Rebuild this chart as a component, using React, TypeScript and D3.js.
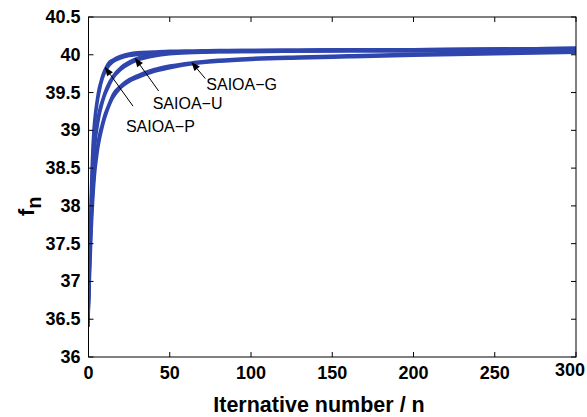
import React from "react";
import * as d3 from "d3";

const W = 587;
const H = 417;
const M = { left: 88.5, right: 11, top: 17, bottom: 60 };

const xTicks = [0, 50, 100, 150, 200, 250, 300];
const yTicks = [36, 36.5, 37, 37.5, 38, 38.5, 39, 39.5, 40, 40.5];

const steps = [0, 1, 2, 3, 4, 5, 6, 7, 8, 10, 12, 15, 20, 25, 30, 40, 50, 65, 80, 100, 130, 160, 200, 250, 300];

const runsP = [
  [36.5, 37.85, 38.6, 39.02, 39.24, 39.4, 39.53, 39.62, 39.7, 39.81, 39.89, 39.94, 39.99, 40.02, 40.035, 40.045, 40.055, 40.06, 40.065, 40.065, 40.07, 40.075, 40.075, 40.085, 40.095],
  [36.45, 37.7, 38.45, 38.9, 39.15, 39.33, 39.47, 39.57, 39.66, 39.78, 39.86, 39.92, 39.97, 40.0, 40.015, 40.03, 40.04, 40.045, 40.05, 40.05, 40.055, 40.06, 40.06, 40.07, 40.08],
  [36.4, 37.55, 38.3, 38.78, 39.06, 39.26, 39.41, 39.52, 39.62, 39.75, 39.83, 39.9, 39.95, 39.98, 39.995, 40.015, 40.025, 40.03, 40.035, 40.035, 40.04, 40.045, 40.045, 40.055, 40.065],
];
const runsU = [
  [36.5, 37.55, 38.25, 38.67, 38.92, 39.09, 39.21, 39.31, 39.38, 39.51, 39.61, 39.72, 39.84, 39.91, 39.96, 40.005, 40.035, 40.05, 40.06, 40.065, 40.07, 40.075, 40.075, 40.085, 40.095],
  [36.45, 37.4, 38.1, 38.55, 38.83, 39.02, 39.15, 39.26, 39.34, 39.48, 39.58, 39.7, 39.82, 39.89, 39.94, 39.99, 40.02, 40.035, 40.045, 40.05, 40.055, 40.06, 40.06, 40.07, 40.08],
  [36.4, 37.25, 37.95, 38.43, 38.74, 38.95, 39.09, 39.21, 39.3, 39.45, 39.55, 39.68, 39.8, 39.87, 39.92, 39.975, 40.005, 40.02, 40.03, 40.035, 40.04, 40.045, 40.045, 40.055, 40.065],
];
const runsG = [
  [36.5, 37.35, 37.95, 38.32, 38.57, 38.75, 38.89, 38.99, 39.07, 39.22, 39.33, 39.48, 39.6, 39.68, 39.73, 39.81, 39.86, 39.905, 39.935, 39.96, 39.98, 39.995, 40.015, 40.035, 40.055],
  [36.45, 37.2, 37.8, 38.2, 38.48, 38.67, 38.82, 38.93, 39.02, 39.18, 39.3, 39.45, 39.58, 39.66, 39.71, 39.79, 39.84, 39.89, 39.92, 39.945, 39.965, 39.98, 40.0, 40.02, 40.04],
  [36.4, 37.05, 37.65, 38.08, 38.39, 38.59, 38.75, 38.87, 38.97, 39.14, 39.27, 39.42, 39.56, 39.64, 39.69, 39.77, 39.82, 39.875, 39.905, 39.93, 39.95, 39.965, 39.985, 40.005, 40.025],
];

// annotations: label, arrow tip (n, f), arrow tail (n, f), text anchor (n, f)
const annLabels = ["SAIOA\u2212P", "SAIOA\u2212U", "SAIOA\u2212G"];
const annTip = [[10, 39.84], [28.5, 39.96], [63.3, 39.905]];
const annTail = [[27.4, 39.32], [43.2, 39.52], [71.9, 39.685]];
const annText = [[23, 38.98], [39.5, 39.28], [72.5, 39.53]];

const BLUE = "#2f46ad";
const FONT = "'Liberation Sans', Arial, Helvetica, sans-serif";

export default function App() {
  const x = d3.scaleLinear().domain([0, 300]).range([M.left, W - M.right]);
  const y = d3.scaleLinear().domain([36, 40.5]).range([H - M.bottom, M.top]);
  const line = d3
    .line<number>()
    .x((_, i) => x(steps[i]))
    .y((d) => y(d))
    .curve(d3.curveMonotoneX);

  const allRuns = [...runsG, ...runsU, ...runsP];
  const x0 = x.range()[0], x1 = x.range()[1];
  const y0 = y.range()[0], y1 = y.range()[1];
  const tl = 5;

  return (
    <svg width={W} height={H} style={{ position: "absolute", left: 0, top: 0, background: "#fff" }}>
      <defs>
        <clipPath id="plot">
          <rect x={x0} y={y1} width={x1 - x0} height={y0 - y1} />
        </clipPath>
      </defs>
      <g clipPath="url(#plot)">
        {allRuns.map((r, i) => (
          <path key={i} d={line(r) || ""} fill="none" stroke={BLUE} strokeWidth={2.2} strokeLinejoin="round" />
        ))}
      </g>
      <rect x={x0} y={y1} width={x1 - x0} height={y0 - y1} fill="none" stroke="#000" strokeWidth={1} />
      {xTicks.map((t, i) => {
        const last = i === xTicks.length - 1;
        return (
          <g key={"x" + t}>
            <line x1={x(t)} x2={x(t)} y1={y0} y2={y0 - tl} stroke="#000" />
            <line x1={x(t)} x2={x(t)} y1={y1} y2={y1 + tl} stroke="#000" />
            <text
              x={x(t) + (last ? -6 : 0)}
              y={y0 + (last ? 19 : 22)}
              textAnchor="middle"
              fontFamily={FONT}
              fontWeight="bold"
              fontSize={18}
            >
              {t}
            </text>
          </g>
        );
      })}
      {yTicks.map((t) => (
        <g key={"y" + t}>
          <line x1={x0} x2={x0 + tl} y1={y(t)} y2={y(t)} stroke="#000" />
          <line x1={x1} x2={x1 - tl} y1={y(t)} y2={y(t)} stroke="#000" />
          <text x={x0 - 8} y={y(t) + 6} textAnchor="end" fontFamily={FONT} fontWeight="bold" fontSize={18}>
            {t}
          </text>
        </g>
      ))}
      {annLabels.map((lab, i) => {
        const tx = x(annTip[i][0]), ty = y(annTip[i][1]);
        const sx = x(annTail[i][0]), sy = y(annTail[i][1]);
        const ang = Math.atan2(ty - sy, tx - sx);
        const hl = 9, hw = 3.5;
        const bx = tx - hl * Math.cos(ang), by = ty - hl * Math.sin(ang);
        const px = -Math.sin(ang) * hw, py = Math.cos(ang) * hw;
        return (
          <g key={lab}>
            <line x1={sx} y1={sy} x2={bx} y2={by} stroke="#000" strokeWidth={1} />
            <path d={`M${tx},${ty}L${bx + px},${by + py}L${bx - px},${by - py}Z`} fill="#000" />
            <text x={x(annText[i][0])} y={y(annText[i][1])} fontFamily={FONT} fontSize={16}>
              {lab}
            </text>
          </g>
        );
      })}
      <text x={319} y={412} textAnchor="middle" fontFamily={FONT} fontWeight="bold" fontSize={21.5}>
        Iternative number / n
      </text>
      <g transform={`translate(34, 216) rotate(-90)`}>
        <text fontFamily={FONT} fontWeight="bold" fontSize={22}>
          f<tspan dy={7} fontSize={20}>n</tspan>
        </text>
      </g>
    </svg>
  );
}
